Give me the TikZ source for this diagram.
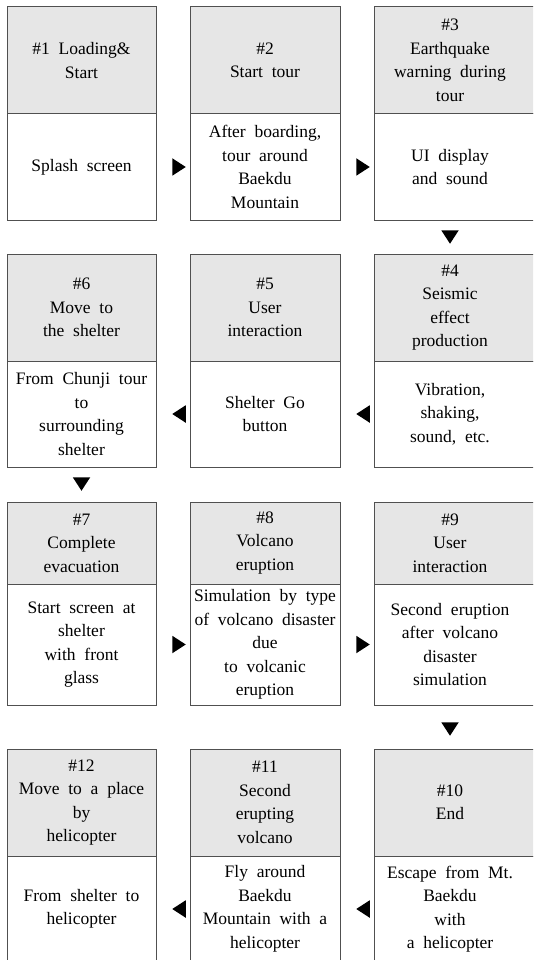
\documentclass[tikz,border=0pt]{standalone}
\usepackage{fontspec}
\setmainfont{Liberation Serif}[WordSpace=2]
\usetikzlibrary{calc}
\definecolor{hdrgray}{HTML}{E6E6E6}
\definecolor{edgegray}{HTML}{505050}
\newcommand\stg[9]{%
  \node[hd, anchor=north west, minimum width={#3-#2}, minimum height={#5-#4}] (#1h) at (#2,#4) {};
  \node[bd, anchor=north west, minimum width={#3-#2}, minimum height={#6-#5}] (#1b) at (#2,#5) {};
  \node[txt] (#1ht) at (#7,{(#4+#5)/2}) {#8};
  \node[txt] (#1bt) at (#7,{(#5+#6)/2}) {#9};
}
\newcommand\rarr[1]{\fill (#1) ++(-6.75,-8.75) -- ++(13.5,8.75) -- ++(-13.5,8.75) -- cycle;}
\newcommand\larr[1]{\fill (#1) ++(6.75,-8.75) -- ++(-13.5,8.75) -- ++(13.5,8.75) -- cycle;}
\newcommand\darr[1]{\fill (#1) ++(-8.75,-6.75) -- ++(17.5,0) -- ++(-8.75,13.5) -- cycle;}
\begin{document}
\begin{tikzpicture}[x=1pt,y=-1pt,
  hd/.style={draw=edgegray, line width=1pt, fill=hdrgray, inner sep=0pt, outer sep=0pt},
  bd/.style={draw=edgegray, line width=1pt, fill=white, inner sep=0pt, outer sep=0pt},
  txt/.style={align=center, font=\fontsize{17.5}{23.5}\selectfont, inner sep=0pt}]
\useasboundingbox (0,0) rectangle (533,960);
\clip (0,0) rectangle (533,960);
% row 1
\stg{s1}{7}{156}{7}{114}{220}{81.5}{\#1 Loading\&\\Start}{Splash screen}
\stg{s2}{190.5}{340}{7}{114}{220}{265}{\#2\\Start tour}{After boarding,\\tour around\\Baekdu\\Mountain}
\stg{s3}{374}{545}{7}{114}{220}{450}{\#3\\Earthquake\\warning during\\tour}{UI display\\and sound}
% row 2
\stg{s6}{7}{156}{254}{361}{467}{81.5}{\#6\\Move to\\the shelter}{From Chunji tour\\to\\surrounding\\shelter}
\stg{s5}{190.5}{340}{254}{361}{467}{265}{\#5\\User\\interaction}{Shelter Go\\button}
\stg{s4}{374}{545}{254}{361}{467}{450}{\#4\\Seismic\\effect\\production}{Vibration,\\shaking,\\sound, etc.}
% row 3
\stg{s7}{7}{156}{502}{584}{705}{81.5}{\#7\\Complete\\evacuation}{Start screen at\\shelter\\with front\\glass}
\stg{s8}{190.5}{340}{502}{584}{705}{265}{\#8\\Volcano\\eruption}{Simulation by type\\of volcano disaster\\due\\to volcanic\\eruption}
\stg{s9}{374}{545}{502}{584}{705}{450}{\#9\\User\\interaction}{Second eruption\\after volcano\\disaster\\simulation}
% row 4
\stg{s12}{7}{156}{749}{856}{962}{81.5}{\#12\\Move to a place\\by\\helicopter}{From shelter to\\helicopter}
\stg{s11}{190.5}{340}{749}{856}{962}{265}{\#11\\Second\\erupting\\volcano}{Fly around\\Baekdu\\Mountain with a\\helicopter}
\stg{s10}{374}{545}{749}{856}{962}{450}{\#10\\End}{Escape from Mt.\\Baekdu\\with\\a helicopter}
% arrows
\coordinate (a12) at ($(s1b.east)+(23,0)$); \rarr{a12}
\coordinate (a23) at ($(s2b.east)+(23,0)$); \rarr{a23}
\coordinate (a34) at ($(s3bt.center|-s3b.south)+(0,17)$); \darr{a34}
\coordinate (a45) at ($(s5b.east)+(23,0)$); \larr{a45}
\coordinate (a56) at ($(s6b.east)+(23,0)$); \larr{a56}
\coordinate (a67) at ($(s6b.south)+(0,17)$); \darr{a67}
\coordinate (a78) at ($(s7b.east)+(23,0)$); \rarr{a78}
\coordinate (a89) at ($(s8b.east)+(23,0)$); \rarr{a89}
\coordinate (a910) at ($(s9bt.center|-s9b.south)+(0,24)$); \darr{a910}
\coordinate (a1011) at ($(s11b.east)+(23,0)$); \larr{a1011}
\coordinate (a1112) at ($(s12b.east)+(23,0)$); \larr{a1112}
\end{tikzpicture}
\end{document}
